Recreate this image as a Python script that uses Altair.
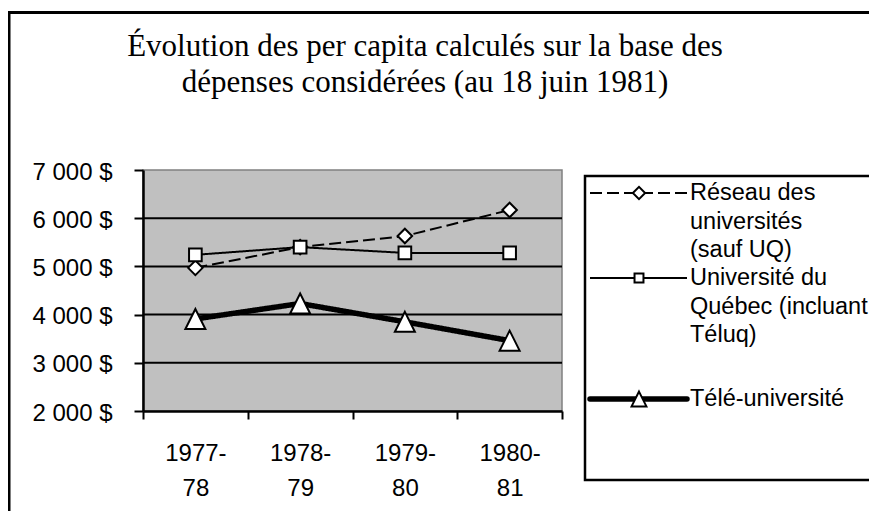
import altair as alt
import pandas as pd

# ---- data ----
annees = ["1977-78", "1978-79", "1979-80", "1980-81"]
series = [
    "Réseau des universités (sauf UQ)",
    "Université du Québec (incluant Téluq)",
    "Télé-université",
]
reseau = [4970, 5400, 5630, 6170]
uq = [5240, 5400, 5280, 5280]
teluq = [3910, 4230, 3850, 3460]
legend_lines = [
    ["Réseau des", "universités", "(sauf UQ)"],
    ["Université du", "Québec (incluant", "Téluq)"],
    ["Télé-université"],
]
y_ticks = [2000, 3000, 4000, 5000, 6000, 7000]
grid_values = [3000, 4000, 5000, 6000]
title_lines = [
    "Évolution des per capita calculés sur la base des",
    "dépenses considérées (au 18 juin 1981)",
]

values_by_series = [reseau, uq, teluq]
df = pd.DataFrame(
    [
        {"annee": a, "serie": s, "valeur": v}
        for s, vals in zip(series, values_by_series)
        for a, v in zip(annees, vals)
    ]
)
grid_df = pd.DataFrame({"valeur": grid_values})

# ---- styles ----
TRI = "M0,-1L1,1L-1,1Z"
styles = [
    dict(dash=[12, 5], width=2, shape="diamond", size=210, lsize=150, cap="butt"),
    dict(dash=[1, 0], width=2, shape="square", size=160, lsize=80, cap="butt"),
    dict(dash=[1, 0], width=5.5, shape=TRI, size=400, lsize=220, cap="round"),
]
FONT = "Liberation Sans"

yscale = alt.Scale(domain=[2000, 7000], nice=False, zero=False)
xaxis = alt.Axis(
    title=None,
    labelAngle=0,
    tickBand="extent",
    labelExpr="[slice(datum.label,0,5), slice(datum.label,5)]",
    labelLineHeight=35,
    labelFontSize=24,
    labelFont=FONT,
    labelColor="black",
    labelPadding=22,
    labelBaseline="top",
    tickSize=8,
    tickWidth=2,
    tickColor="black",
    domainColor="black",
    domainWidth=2.5,
)
yaxis = alt.Axis(
    values=y_ticks,
    title=None,
    grid=False,
    labelExpr="replace(format(datum.value, ','), ',', ' ') + ' $'",
    labelFontSize=24,
    labelFont=FONT,
    labelColor="black",
    labelPadding=22,
    labelOffset=2,
    tickSize=9,
    tickWidth=2,
    tickColor="black",
    domainColor="black",
    domainWidth=2.5,
)
xenc = alt.X(
    "annee:N",
    sort=annees,
    scale=alt.Scale(type="band", paddingInner=0, paddingOuter=0),
    axis=xaxis,
)
yenc = alt.Y("valeur:Q", scale=yscale, axis=yaxis)

one = pd.DataFrame({"k": [0]})

layers = []
# grid
layers.append(
    alt.Chart(grid_df)
    .mark_rule(color="black", strokeWidth=2)
    .encode(y=yenc)
)
# outer frame
layers.append(
    alt.Chart(one)
    .mark_rect(fillOpacity=0, stroke="black", strokeWidth=3)
    .encode(x=alt.value(-134), x2=alt.value(900), y=alt.value(-157.5), y2=alt.value(500))
)
# title
layers.append(
    alt.Chart(one)
    .mark_text(align="center", baseline="middle", font="Liberation Serif",
               fontSize=31, lineHeight=36, color="black")
    .encode(x=alt.value(282), y=alt.value(-123), text=alt.value(title_lines))
)
# series
for s, st in zip(series, styles):
    base = alt.Chart(df).transform_filter(alt.datum.serie == s)
    layers.append(
        base.mark_line(color="black", strokeWidth=st["width"], strokeDash=st["dash"])
        .encode(x=xenc, y=yenc)
    )
    layers.append(
        base.mark_point(
            shape=st["shape"], size=st["size"], filled=True, fill="white",
            stroke="black", strokeWidth=2, opacity=1,
        ).encode(x=xenc, y=yenc)
    )

# legend box
layers.append(
    alt.Chart(one)
    .mark_rect(fillOpacity=0, stroke="black", strokeWidth=2.5)
    .encode(x=alt.value(442), x2=alt.value(900), y=alt.value(6), y2=alt.value(310))
)
legend_y = [23, 108, 229]
for s, st, lines, ly in zip(series, styles, legend_lines, legend_y):
    d = pd.DataFrame({"serie": [s]})
    layers.append(
        alt.Chart(d)
        .mark_rule(color="black", strokeWidth=st["width"], strokeDash=st["dash"], strokeCap=st["cap"])
        .encode(x=alt.value(447), x2=alt.value(544), y=alt.value(ly))
    )
    layers.append(
        alt.Chart(d)
        .mark_point(
            shape=st["shape"], size=st["lsize"], filled=True, fill="white",
            stroke="black", strokeWidth=2, opacity=1,
        )
        .encode(x=alt.value(496), y=alt.value(ly))
    )
    layers.append(
        alt.Chart(d)
        .mark_text(align="left", baseline="middle", fontSize=23.5, font=FONT,
                   lineHeight=28.5, color="black")
        .encode(x=alt.value(547), y=alt.value(ly), text=alt.value(lines))
    )

chart = (
    alt.layer(*layers)
    .properties(
        width=419,
        height=241,
        padding={"left": 135, "top": 162, "right": 307, "bottom": 100},
        autosize=alt.AutoSizeParams(type="none"),
        background="white",
    )
    .configure_view(fill="#c0c0c0", stroke="#808080", strokeWidth=1.5)
)

chart.save("out.html", embed_options={"renderer": "svg", "actions": False})
